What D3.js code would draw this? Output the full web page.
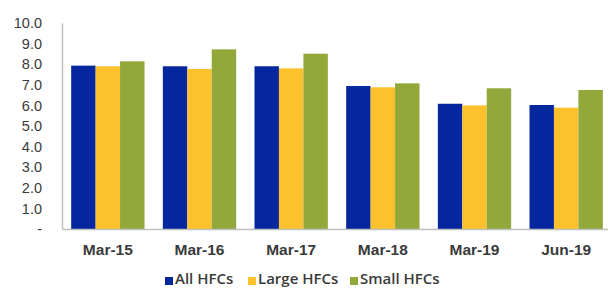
<!DOCTYPE html>
<html lang="en">
<head>
  <meta charset="UTF-8">
  <script src="https://d3js.org/d3.v7.min.js"></script>
  <style>
    body { margin: 0; background: #ffffff; font-family: "Open Sans", Arial, sans-serif; }
    .tick text { fill: #3a3a3a; }
  </style>
</head>
<body>
  <div id="chart"></div>
  <script>
    const categories = ["Mar-15", "Mar-16", "Mar-17", "Mar-18", "Mar-19", "Jun-19"];
    const seriesNames = ["All HFCs", "Large HFCs", "Small HFCs"];
    const allHFCs   = [7.93, 7.90, 7.90, 6.94, 6.08, 6.02];
    const largeHFCs = [7.90, 7.77, 7.80, 6.88, 6.00, 5.89];
    const smallHFCs = [8.14, 8.72, 8.51, 7.07, 6.83, 6.75];
    const yTicks = [0, 1, 2, 3, 4, 5, 6, 7, 8, 9, 10];
    const colors = ["#05279e", "#fdc12e", "#92a83b"];

    const width = 608, height = 288;
    const margin = { top: 23, left: 62, bottom: 59 };

    const svg = d3.select("#chart").append("svg")
      .attr("width", width)
      .attr("height", height);

    const x = d3.scaleBand()
      .domain(categories)
      .range([margin.left, 612])
      .paddingInner(0.2)
      .paddingOuter(0.1);

    const xSub = d3.scaleBand()
      .domain(seriesNames)
      .range([0, x.bandwidth()]);

    const y = d3.scaleLinear()
      .domain([0, 10])
      .range([height - margin.bottom, margin.top]);

    const table = categories.map((c, i) => ({
      cat: c,
      values: [allHFCs[i], largeHFCs[i], smallHFCs[i]]
    }));

    // bars
    const groups = svg.selectAll(".grp")
      .data(table)
      .enter().append("g")
      .attr("transform", d => `translate(${x(d.cat)},0)`);

    groups.selectAll("rect")
      .data(d => d.values.map((v, j) => ({ name: seriesNames[j], v: v, j: j })))
      .enter().append("rect")
      .attr("x", d => xSub(d.name))
      .attr("width", xSub.bandwidth())
      .attr("y", d => y(d.v))
      .attr("height", d => y(0) - y(d.v))
      .attr("fill", d => colors[d.j]);

    // y axis
    const yAxis = svg.append("g")
      .attr("transform", `translate(${margin.left},0)`)
      .call(d3.axisLeft(y).tickValues(yTicks).tickSize(0).tickPadding(20)
        .tickFormat(d => d === 0 ? "-" : d3.format(".1f")(d)));
    yAxis.select(".domain").attr("stroke", "#bfbfbf").attr("stroke-width", 1.5);
    yAxis.selectAll("text").style("font-size", "14.5px").attr("dx", "0");

    // x axis
    const xAxis = svg.append("g")
      .attr("transform", `translate(0,${y(0)})`)
      .call(d3.axisBottom(x).tickSize(0).tickPadding(15));
    xAxis.select(".domain").attr("stroke", "#bfbfbf").attr("stroke-width", 1.5);
    xAxis.selectAll("text").style("font-size", "15.5px").style("font-weight", "600");

    // legend
    const legendX = [165, 248, 350];
    const legend = svg.selectAll(".leg")
      .data(seriesNames)
      .enter().append("g")
      .attr("transform", (d, i) => `translate(${legendX[i]},${279})`);
    legend.append("rect")
      .attr("x", 0).attr("y", -2)
      .attr("width", 8).attr("height", 8)
      .attr("fill", (d, i) => colors[i]);
    legend.append("text")
      .attr("x", 10).attr("y", 0)
      .attr("dy", "0.35em")
      .style("font-size", "15px")
      .style("font-weight", "600")
      .attr("fill", "#3a3a3a")
      .text(d => d);
  </script>
</body>
</html>
